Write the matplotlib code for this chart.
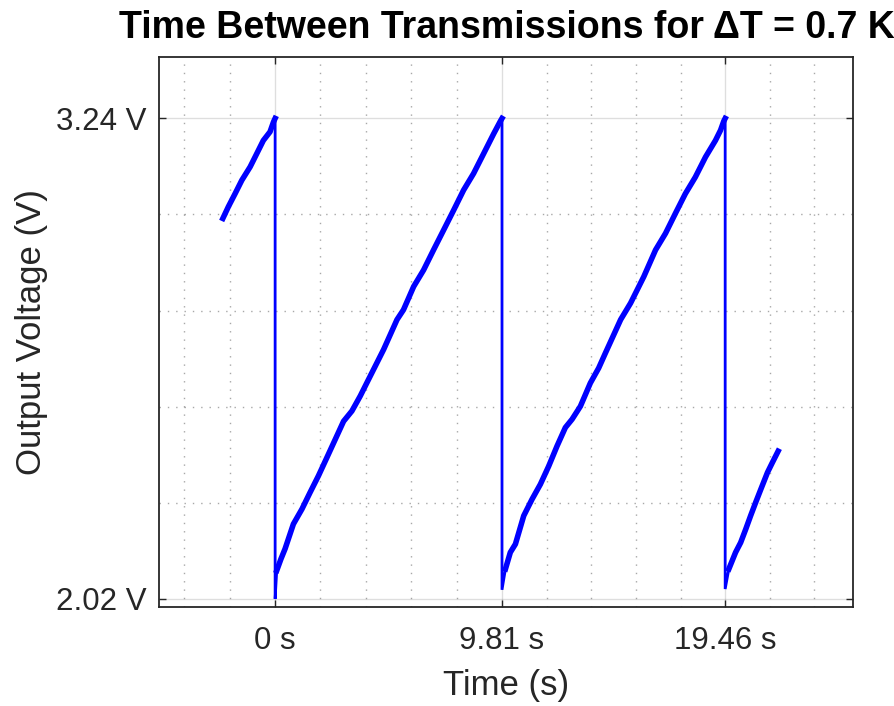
import matplotlib
matplotlib.use("Agg")
import matplotlib.pyplot as plt
import numpy as np

plt.rcParams['font.family'] = ['Liberation Sans', 'DejaVu Sans']

# --- data (time in s, voltage in V) ---
seg1_t = [-2.26, -2.02, -1.73, -1.44, -1.08, -0.79, -0.51, -0.22, -0.07, 0.0]
seg1_v = [2.986, 3.016, 3.049, 3.083, 3.117, 3.151, 3.184, 3.206, 3.231, 3.24]

seg2_t = [0.0, 0.07, 0.25, 0.43, 0.79, 1.16, 1.51, 1.87, 2.24, 2.60, 2.96, 3.32,
          3.68, 3.97, 4.33, 4.69, 5.27, 5.55, 5.99, 6.42, 6.85, 7.29, 7.72, 8.15,
          8.58, 9.02, 9.45, 9.74, 9.81]
seg2_v = [2.02, 2.092, 2.121, 2.147, 2.210, 2.248, 2.290, 2.332, 2.379, 2.425, 2.471, 2.497,
          2.535, 2.569, 2.611, 2.653, 2.729, 2.754, 2.813, 2.855, 2.906, 2.957, 3.007, 3.058,
          3.100, 3.151, 3.201, 3.233, 3.24]

seg3_t = [9.81, 9.96, 10.17, 10.39, 10.75, 11.11, 11.47, 11.83, 12.19, 12.55, 12.84,
          13.20, 13.63, 13.99, 14.28, 14.94, 15.37, 15.94, 16.45, 16.88, 17.31, 17.74,
          18.17, 18.61, 19.04, 19.26, 19.40, 19.46]
seg3_v = [2.043, 2.096, 2.138, 2.159, 2.231, 2.273, 2.311, 2.357, 2.408, 2.455, 2.476,
          2.509, 2.568, 2.606, 2.644, 2.729, 2.771, 2.838, 2.906, 2.948, 2.999, 3.049,
          3.091, 3.142, 3.184, 3.210, 3.233, 3.24]

seg4_t = [19.46, 19.62, 19.91, 20.13, 20.35, 20.56, 20.78, 21.00, 21.29, 21.50, 21.75]
seg4_v = [2.045, 2.096, 2.138, 2.163, 2.197, 2.231, 2.265, 2.298, 2.341, 2.366, 2.395]

x_ticks = [0, 9.81, 19.46]
x_tick_labels = ['0 s', '9.81 s', '19.46 s']
y_ticks = [2.02, 3.24]
y_tick_labels = ['2.02 V', '3.24 V']

title = 'Time Between Transmissions for ΔT = 0.7 K'
xlabel = 'Time (s)'
ylabel = 'Output Voltage (V)'

# --- figure ---
fig = plt.figure(figsize=(8.95, 7.06), dpi=100)
ax = fig.add_axes([0.1782, 0.1406, 0.7752, 0.7787])

segments = [(seg1_t, seg1_v), (seg2_t, seg2_v), (seg3_t, seg3_v), (seg4_t, seg4_v)]
all_t = np.concatenate([np.asarray(t) for t, _ in segments])
all_v = np.concatenate([np.asarray(v) for _, v in segments])
ax.plot(all_t, all_v, color=(0, 0, 1), lw=2.0, solid_joinstyle='miter', zorder=3)
for i, (t, v) in enumerate(segments):
    s = 0 if i == 0 else 1
    ax.plot(t[s:], v[s:], color=(0, 0, 1), lw=4.0, zorder=3)

ax.set_xlim(-5, 25)
ax.set_ylim(2.0, 3.396)

ax.set_xticks(x_ticks)
ax.set_xticklabels(x_tick_labels)
ax.set_yticks(y_ticks)
ax.set_yticklabels(y_tick_labels)

# minor grid positions: 5 subdivisions of each major interval
def minor_positions(majors, lo, hi):
    pos = []
    for a, b in zip(majors[:-1], majors[1:]):
        step = (b - a) / 5
        pos += [a + k * step for k in range(1, 5)]
    step0 = (majors[1] - majors[0]) / 5
    p = majors[0] - step0
    while p > lo:
        pos.append(p)
        p -= step0
    step1 = (majors[-1] - majors[-2]) / 5
    p = majors[-1] + step1
    while p < hi:
        pos.append(p)
        p += step1
    return sorted(pos)

ax.set_xticks(minor_positions(x_ticks, -5, 25), minor=True)
ax.set_yticks(minor_positions(y_ticks, 2.0, 3.396), minor=True)

spine_col = (0.15, 0.15, 0.15)
ax.grid(True, which='major', color=(0.15, 0.15, 0.15), alpha=0.15, lw=1.0, ls='-', zorder=0)
ax.grid(True, which='minor', color=(0.15, 0.15, 0.15), alpha=0.4, lw=1.0, ls=(0, (1, 5)), zorder=0)
ax.set_axisbelow(True)

for s in ax.spines.values():
    s.set_color(spine_col)
    s.set_linewidth(1.3)

ax.tick_params(which='major', direction='in', length=5, width=1.0, color=spine_col,
               top=True, right=True, labelsize=22.5, labelcolor=spine_col)
ax.tick_params(axis='x', which='major', pad=14)
ax.tick_params(axis='y', which='major', pad=9)
ax.tick_params(which='minor', length=0)

ax.set_xlabel(xlabel, fontsize=25, color=spine_col, labelpad=9)
ax.set_ylabel(ylabel, fontsize=25, color=spine_col, labelpad=6)
ax.set_title(title, fontsize=27, fontweight='bold', color='black', pad=14)

fig.savefig('out.png', dpi=100)
